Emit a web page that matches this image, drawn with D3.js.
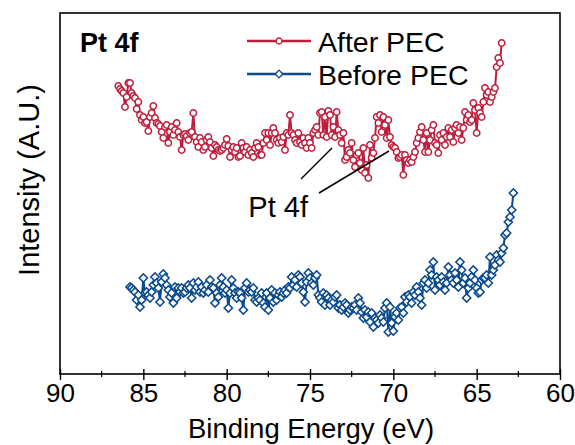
<!DOCTYPE html>
<html><head><meta charset="utf-8">
<script src="https://cdn.jsdelivr.net/npm/d3@7"></script>
<style>
body{margin:0;background:#fff;}
text{font-family:"Liberation Sans",Arial,Helvetica,sans-serif;}
</style></head>
<body><svg id="c" width="575" height="445"></svg>
<script>
// Binding energy grids (eV), 0.1 eV step
const afterStart = 86.5, beforeStart = 85.8, stepEV = 0.1;
// Intensity (arbitrary units) — After PEC
const afterPEC = [288,285,283,281,267,277,291,291,281,278,276,265,272,259,254,257,251,252,243,257,
261,268,256,251,250,248,242,236,247,249,231,242,247,239,244,251,242,237,224,239,
240,238,234,241,242,261,237,232,227,236,232,224,227,234,237,232,226,218,229,227,
224,223,224,226,229,235,228,217,224,227,222,226,217,218,231,226,222,227,219,224,
221,217,226,231,227,219,219,231,241,234,241,229,241,246,241,234,231,236,232,237,
224,241,239,259,241,239,234,231,241,232,229,236,231,226,236,231,226,241,244,247,
239,261,262,239,257,237,263,259,239,247,237,262,244,239,231,241,214,217,224,221,
231,214,207,219,221,211,204,226,201,209,196,229,216,221,236,257,251,259,242,257,
249,236,254,237,229,227,226,222,216,217,219,199,219,214,211,214,212,217,222,231,
236,242,247,234,222,241,222,234,244,249,231,229,221,239,234,241,229,237,246,237,
244,232,246,249,241,247,234,246,262,254,259,252,254,271,264,241,266,261,257,272,
286,279,282,272,277,282,286,307,316,311,331];
// Intensity (arbitrary units) — Before PEC
const beforePEC = [87,86,84,82,74,79,67,74,96,81,82,79,76,82,89,97,91,86,72,92,
100,96,89,84,77,81,71,87,76,86,82,86,81,82,86,89,86,76,91,84,
87,92,82,87,81,84,89,82,94,87,86,71,81,77,89,96,87,81,84,66,
81,94,86,81,76,82,81,76,64,86,91,82,84,82,86,74,72,76,74,81,
71,67,81,64,76,84,72,81,74,79,82,77,81,84,81,87,86,97,89,94,
87,99,97,91,82,72,92,101,96,91,89,96,99,79,76,72,81,69,79,76,
69,74,72,77,79,66,69,64,67,71,69,61,64,67,66,69,64,76,71,62,
56,64,57,62,52,61,47,56,54,51,59,56,52,66,71,42,67,51,43,57,
61,54,66,67,61,77,72,79,77,71,82,79,87,82,76,69,91,94,86,91,
104,99,112,84,97,94,89,97,92,84,91,107,99,94,91,101,94,87,112,104,
91,96,76,86,91,97,104,94,86,81,82,94,96,96,99,91,117,99,104,109,
119,114,112,121,126,139,141,152,157,164,181];
const seriesNames = ["After PEC", "Before PEC"];
const xTicks = [90, 85, 80, 75, 70, 65, 60];
const xMinorTicks = [87.5, 82.5, 77.5, 72.5, 67.5, 62.5];
const noteLabel = "Pt 4f";
const panelLabel = "Pt 4f";

const red = "#be1e3c", blue = "#0b4a8c";
const svg = d3.select("#c");
const L = 60, R = 560, T = 13, B = 374;
const x = d3.scaleLinear().domain([90, 60]).range([L, R]);
const y = d3.scaleLinear().domain([0, 361]).range([B, T]);

const toPts = (start, vals) => vals.map((v, i) => ({e: +(start - i * stepEV).toFixed(2), v}));
const aPts = toPts(afterStart, afterPEC);
const bPts = toPts(beforeStart, beforePEC);

// frame
svg.append("rect").attr("x", L).attr("y", T).attr("width", R - L).attr("height", B - T)
  .attr("fill", "none").attr("stroke", "#000").attr("stroke-width", 1.6);

// x axis
const ax = svg.append("g").attr("transform", `translate(0,${B})`);
ax.call(d3.axisBottom(x).tickValues(xTicks).tickSize(6).tickFormat(d3.format("d")))
  .call(g => g.select(".domain").remove())
  .call(g => g.selectAll(".tick line").attr("y1", -5).attr("stroke-width", 1.4))
  .call(g => g.selectAll(".tick text").attr("font-size", 26).attr("dy", 0).attr("y", 28).attr("fill", "#000")
        .attr("font-family", "Liberation Sans, Arial, sans-serif"));
ax.selectAll(".minor").data(xMinorTicks).enter().append("line").attr("class", "minor")
  .attr("x1", d => x(d)).attr("x2", d => x(d)).attr("y1", -3).attr("y2", 3)
  .attr("stroke", "#000").attr("stroke-width", 1.2);

svg.append("text").attr("x", 311).attr("y", 438).attr("text-anchor", "middle")
  .attr("font-size", 27.5).text("Binding Energy (eV)");
svg.append("text").attr("transform", "translate(39,180) rotate(-90)").attr("text-anchor", "middle")
  .attr("font-size", 29).text("Intensity (A.U.)");

// series
const line = d3.line().x(d => x(d.e)).y(d => y(d.v));
function drawSeries(pts, color, shape) {
  const g = svg.append("g");
  g.append("path").datum(pts).attr("d", line).attr("fill", "none")
    .attr("stroke", color).attr("stroke-width", 2);
  const sym = d3.symbol().type(shape).size(shape === d3.symbolCircle ? 32 : 34);
  g.selectAll("path.m").data(pts).enter().append("path").attr("class", "m")
    .attr("d", sym)
    .attr("transform", d => `translate(${x(d.e)},${y(d.v)})` + (shape === d3.symbolSquare ? " rotate(45)" : ""))
    .attr("fill", "#fff").attr("stroke", color).attr("stroke-width", 1.5);
}
drawSeries(bPts, blue, d3.symbolSquare);
drawSeries(aPts, red, d3.symbolCircle);

// annotation
const ann = [[75.54, 195, 73.68, 226], [74.46, 181, 70.26, 223]];
svg.selectAll("line.ann").data(ann).enter().append("line").attr("class", "ann")
  .attr("x1", d => x(d[0])).attr("y1", d => y(d[1])).attr("x2", d => x(d[2])).attr("y2", d => y(d[3]))
  .attr("stroke", "#000").attr("stroke-width", 1.5);
svg.append("text").attr("x", x(78.7)).attr("y", y(157)).attr("font-size", 29).text(noteLabel);

// panel label
svg.append("text").attr("x", 80).attr("y", 52).attr("font-size", 27).attr("font-weight", "bold").text(panelLabel);

// legend
const leg = [{n: seriesNames[0], c: red, s: d3.symbolCircle, yy: 41},
             {n: seriesNames[1], c: blue, s: d3.symbolSquare, yy: 74}];
leg.forEach(d => {
  svg.append("line").attr("x1", 247).attr("x2", 311).attr("y1", d.yy).attr("y2", d.yy)
    .attr("stroke", d.c).attr("stroke-width", 2.4);
  svg.append("path").attr("d", d3.symbol().type(d.s).size(d.s === d3.symbolCircle ? 28 : 30)())
    .attr("transform", `translate(279,${d.yy})` + (d.s === d3.symbolSquare ? " rotate(45)" : ""))
    .attr("fill", "#fff").attr("stroke", d.c).attr("stroke-width", 1.4);
  svg.append("text").attr("x", 318).attr("y", d.yy + 11).attr("font-size", 28.5).text(d.n);
});
</script></body></html>
